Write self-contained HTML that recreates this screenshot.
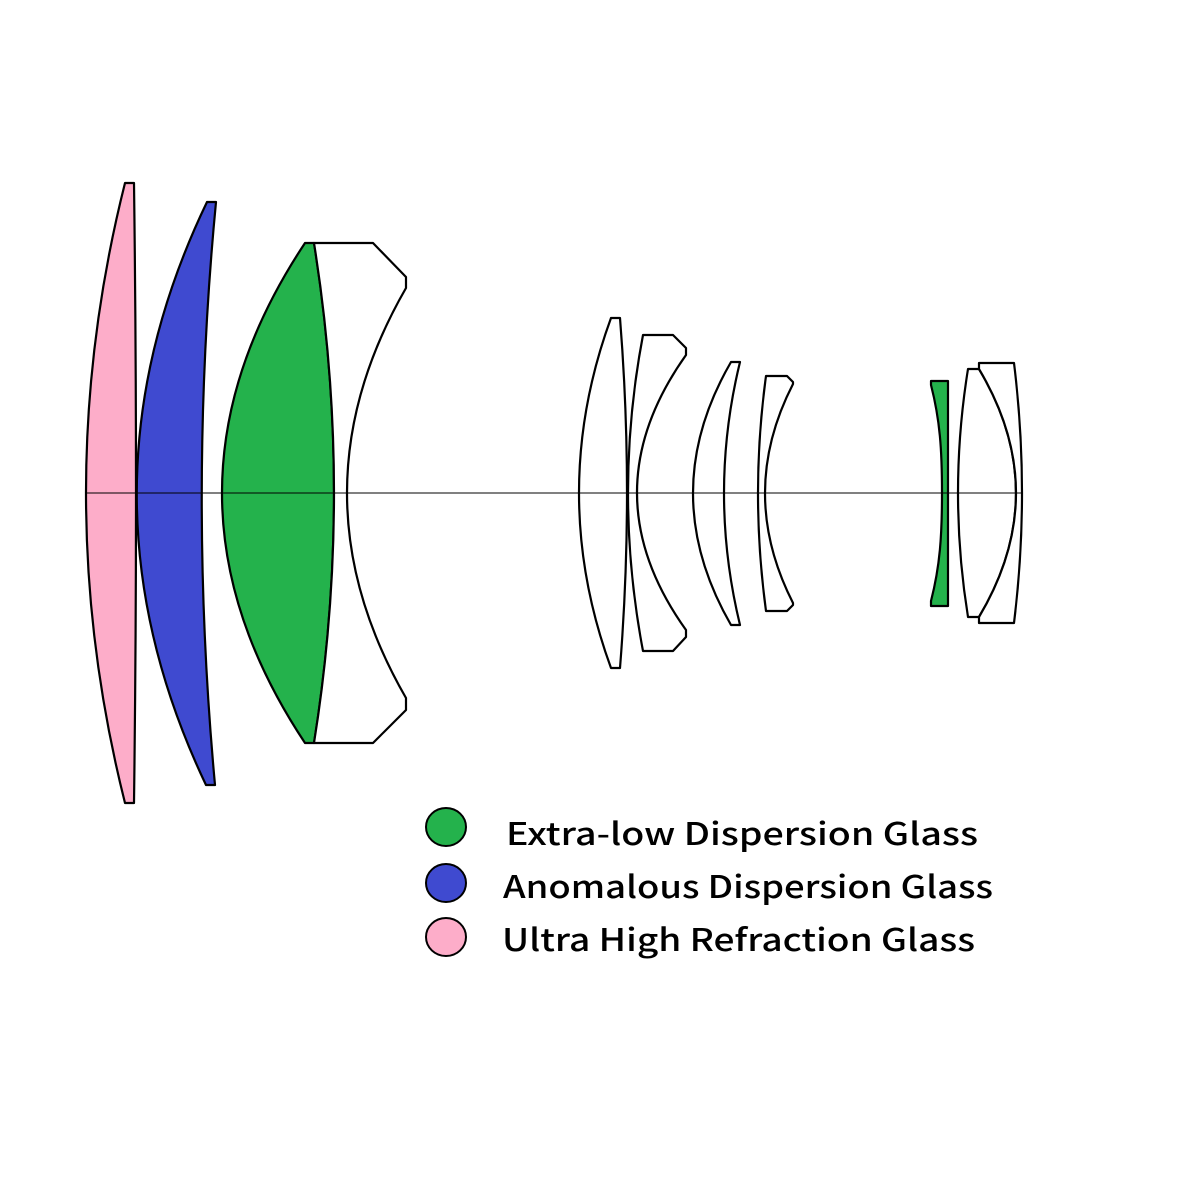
<!DOCTYPE html>
<html><head><style>html,body{margin:0;padding:0;background:#fff;overflow:hidden}svg{display:block}</style></head>
<body>
<svg width="1200" height="1200" viewBox="0 0 1200 1200" xmlns="http://www.w3.org/2000/svg">
<rect width="1200" height="1200" fill="#fff"/>
<g stroke="#000" stroke-width="2.2" stroke-linejoin="round">
<path d="M125,183 L134,183 Q138,493 134,803 L125,803 Q47,493 125,183 Z" fill="#fdadc9"/>
<path d="M207,202 L216,202 Q188,493 215,785 L206,785 Q67,493 207,202 Z" fill="#3f4ad0"/>
<path d="M305,243 L314,243 Q354,493 314,743 L305,743 Q139,493 305,243 Z" fill="#24b24c"/>
<path d="M314,243 L373,243 L406,277 L406,288 Q288,493 406,698 L406,710 L373,743 L314,743 Q354,493 314,243 Z" fill="#fff"/>
<path d="M611,318 L620,318 Q634,493 620,668 L611,668 Q547,493 611,318 Z" fill="#fff"/>
<path d="M643,335 L673,335 L686,348 L686,355 Q588,493 686,630 L686,637 L673,651 L643,651 Q613,493 643,335 Z" fill="#fff"/>
<path d="M731,362 L740,362 Q708,493 740,625 L731,625 Q655,493 731,362 Z" fill="#fff"/>
<path d="M766,376 L787,376 L793,382 L793,384 Q737,493 793,603 L793,605 L787,611 L766,611 Q750,493 766,376 Z" fill="#fff"/>
<path d="M931,381 L948,381 L948,606 L931,606 L931,601 C940,566 942,536 942,493 C942,450 940,420 931,385 Z" fill="#24b24c"/>
<path d="M968,369 L979,369 Q1053,493 979,617 L968,617 Q948,493 968,369 Z" fill="#fff"/>
<path d="M979,369 L979,363 L1014,363 Q1030,493 1014,623 L979,623 L979,617 Q1053,493 979,369 Z" fill="#fff"/>
</g>
<line x1="86" y1="493" x2="1022" y2="493" stroke="#000" stroke-width="1"/>
<g stroke="#000" stroke-width="2">
<ellipse cx="446" cy="827" rx="20" ry="19" fill="#24b24c"/>
<ellipse cx="446" cy="883" rx="20" ry="19" fill="#3f4ad0"/>
<ellipse cx="446" cy="937" rx="20" ry="19" fill="#fdadc9"/>
</g>
<g font-family="'Noto Sans CJK JP', 'Liberation Sans', sans-serif" font-weight="500" font-size="31" fill="#000">
<text x="506" y="845" textLength="472" lengthAdjust="spacingAndGlyphs">Extra-low Dispersion Glass</text>
<text x="503" y="898" textLength="490" lengthAdjust="spacingAndGlyphs">Anomalous Dispersion Glass</text>
<text x="502" y="951" textLength="473" lengthAdjust="spacingAndGlyphs">Ultra High Refraction Glass</text>
</g>
</svg>
</body></html>
